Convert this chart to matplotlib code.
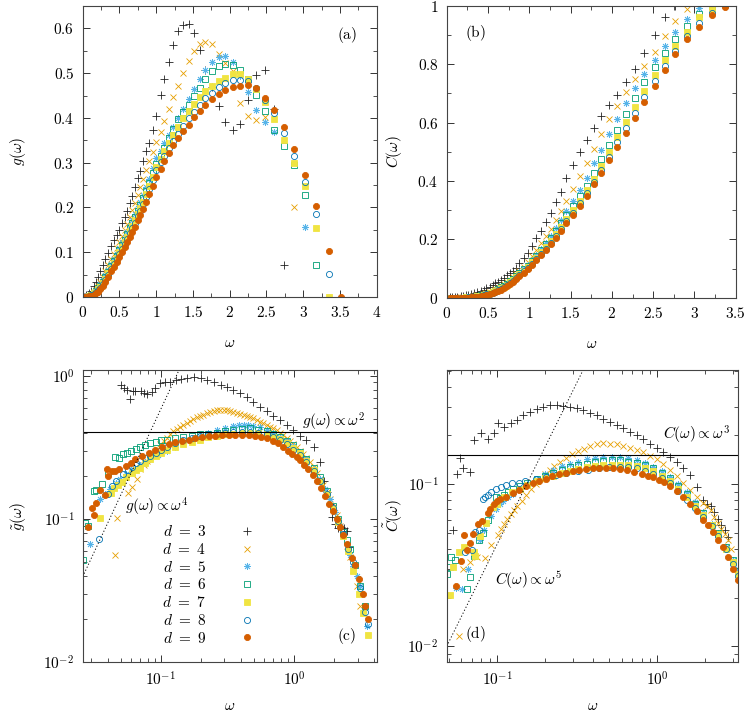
import numpy as np
import matplotlib
matplotlib.use('Agg')
import matplotlib.pyplot as plt
from matplotlib.ticker import MultipleLocator, LogLocator, NullFormatter, FuncFormatter

plt.rcParams['mathtext.fontset'] = 'cm'
plt.rcParams['font.family'] = ['DejaVu Serif']
plt.rcParams['font.size'] = 11

nan = np.nan
dims = [3, 4, 5, 6, 7, 8, 9]

# ---- panel (a): g(omega), shared omega grid ----
w_a = [0.02,0.05,0.08,0.11,0.15,0.18,0.21,0.24,0.27,0.31,
       0.35,0.39,0.43,0.46,0.50,0.54,0.57,0.60,0.64,0.67,
       0.71,0.75,0.78,0.82,0.86,0.90,0.95,1.00,1.06,1.11,
       1.17,1.23,1.30,1.37,1.44,1.51,1.59,1.67,1.76,1.85,
       1.94,2.04,2.14,2.25,2.36,2.48,2.60,2.74,2.88,3.03,
       3.18,3.35,3.52]
g_d3 = [0.001,0.004,0.008,0.014,0.024,0.034,0.045,0.057,0.071,0.085,
        0.098,0.114,0.128,0.139,0.150,0.166,0.178,0.192,0.211,0.225,
        0.245,0.266,0.282,0.304,0.325,0.343,0.374,0.405,0.452,0.488,
        0.525,0.563,0.594,0.608,0.609,0.589,0.552,0.508,0.468,0.426,
        0.390,0.374,0.387,0.439,0.495,0.508,0.420,0.072,nan,nan,
        nan,nan,nan]
g_d4 = [0.000,0.001,0.002,0.005,0.010,0.016,0.024,0.034,0.045,0.058,
        0.071,0.084,0.097,0.109,0.123,0.136,0.149,0.163,0.178,0.195,
        0.211,0.228,0.246,0.264,0.283,0.303,0.323,0.346,0.369,0.392,
        0.420,0.447,0.472,0.500,0.527,0.549,0.564,0.569,0.564,0.543,
        0.522,0.505,0.434,0.404,0.396,0.402,nan,nan,0.202,nan,
        nan,nan,nan]
g_d5 = [0.000,0.001,0.003,0.006,0.010,0.015,0.021,0.028,0.037,0.048,
        0.060,0.073,0.085,0.097,0.110,0.122,0.134,0.146,0.159,0.172,
        0.185,0.199,0.213,0.228,0.245,0.264,0.287,0.310,0.327,0.344,
        0.362,0.380,0.400,0.421,0.443,0.465,0.487,0.506,0.524,0.536,
        0.538,0.524,0.493,0.457,0.417,0.390,0.369,nan,nan,0.157,
        nan,nan,nan]
g_d6 = [0.000,0.001,0.003,0.005,0.009,0.013,0.019,0.025,0.034,0.044,
        0.056,0.069,0.081,0.092,0.105,0.116,0.128,0.140,0.153,0.165,
        0.178,0.192,0.206,0.220,0.237,0.255,0.276,0.298,0.316,0.333,
        0.355,0.376,0.397,0.413,0.429,0.450,0.467,0.487,0.504,0.515,
        0.520,0.518,0.506,0.488,0.452,0.415,0.374,0.337,0.294,0.228,
        0.072,nan,nan]
g_d7 = [0.000,0.001,0.002,0.005,0.008,0.012,0.017,0.023,0.031,0.041,
        0.053,0.065,0.077,0.088,0.100,0.111,0.122,0.134,0.147,0.159,
        0.172,0.186,0.199,0.213,0.230,0.248,0.269,0.290,0.309,0.326,
        0.344,0.362,0.380,0.399,0.416,0.431,0.446,0.460,0.471,0.482,
        0.490,0.499,0.497,0.486,0.465,0.436,0.398,0.351,0.300,0.247,
        0.154,0.000,nan]
g_d8 = [0.000,0.001,0.002,0.004,0.007,0.010,0.015,0.021,0.028,0.038,
        0.050,0.062,0.073,0.084,0.096,0.107,0.118,0.130,0.142,0.154,
        0.166,0.180,0.193,0.207,0.224,0.241,0.262,0.283,0.301,0.316,
        0.332,0.349,0.364,0.381,0.399,0.414,0.429,0.444,0.456,0.469,
        0.478,0.484,0.485,0.483,0.467,0.441,0.410,0.366,0.316,0.257,
        0.185,0.051,nan]
g_d9 = [0.000,0.000,0.0015,0.003,0.005,0.008,0.012,0.017,0.024,0.034,
        0.045,0.057,0.068,0.078,0.090,0.101,0.112,0.123,0.135,0.146,
        0.157,0.171,0.183,0.196,0.213,0.230,0.248,0.268,0.286,0.304,
        0.322,0.340,0.356,0.370,0.385,0.403,0.416,0.429,0.443,0.453,
        0.463,0.468,0.471,0.473,0.466,0.444,0.418,0.380,0.331,0.272,
        0.203,0.102,0.000]

# ---- panel (b): C(omega) ----
w_b = [0.04,0.07,0.10,0.13,0.17,0.20,0.23,0.26,0.29,0.33,
       0.37,0.41,0.45,0.48,0.52,0.56,0.59,0.62,0.66,0.69,
       0.73,0.77,0.80,0.84,0.88,0.93,0.98,1.03,1.08,1.14,
       1.20,1.26,1.32,1.38,1.45,1.53,1.61,1.70,1.78,1.87,
       1.96,2.06,2.17,2.28,2.39,2.52,2.64,2.77,2.91,3.06,
       3.21,3.37]
c_d3 = [0.001,0.002,0.003,0.004,0.005,0.006,0.008,0.010,0.012,0.015,
        0.019,0.023,0.028,0.032,0.038,0.044,0.050,0.055,0.062,0.069,
        0.077,0.085,0.092,0.103,0.118,0.136,0.153,0.178,0.204,0.229,
        0.258,0.291,0.327,0.363,0.409,0.455,0.498,0.541,0.583,0.623,
        0.661,0.695,0.738,0.783,0.838,0.900,0.961,1.000,nan,nan,
        nan,nan]
c_d4 = [0,0.0001,0.0002,0.0004,0.0007,0.0012,0.002,0.003,0.004,0.006,
        0.008,0.010,0.013,0.016,0.020,0.024,0.029,0.034,0.040,0.047,
        0.054,0.062,0.070,0.080,0.091,0.105,0.123,0.143,0.163,0.186,
        0.211,0.234,0.266,0.297,0.331,0.373,0.418,0.463,0.510,0.560,
        0.612,0.657,0.704,0.750,0.795,0.843,0.897,0.949,0.989,nan,
        nan,nan]
c_d5 = [0,0,0.0001,0.0002,0.0004,0.0007,0.0012,0.002,0.003,0.0045,
        0.006,0.009,0.011,0.014,0.017,0.021,0.026,0.031,0.037,0.043,
        0.050,0.058,0.066,0.076,0.087,0.099,0.113,0.130,0.148,0.167,
        0.189,0.212,0.238,0.266,0.298,0.333,0.370,0.410,0.461,0.506,
        0.560,0.613,0.666,0.718,0.767,0.815,0.864,0.912,0.955,0.992,
        nan,nan]
c_d6 = [0,0,0,0.0001,0.0003,0.0005,0.0009,0.0015,0.0025,0.004,
        0.006,0.008,0.010,0.013,0.016,0.020,0.024,0.029,0.035,0.041,
        0.048,0.056,0.064,0.074,0.085,0.097,0.110,0.126,0.143,0.162,
        0.183,0.205,0.229,0.255,0.283,0.314,0.349,0.384,0.428,0.474,
        0.523,0.575,0.629,0.684,0.738,0.790,0.840,0.887,0.933,0.973,
        1.000,nan]
c_d7 = [0,0,0,0.0001,0.0002,0.0004,0.0007,0.0012,0.002,0.003,
        0.005,0.007,0.009,0.012,0.015,0.018,0.022,0.027,0.032,0.038,
        0.045,0.053,0.061,0.070,0.081,0.093,0.105,0.121,0.137,0.155,
        0.174,0.195,0.218,0.243,0.270,0.300,0.333,0.368,0.406,0.453,
        0.501,0.552,0.601,0.655,0.710,0.763,0.815,0.864,0.910,0.961,
        0.990,nan]
c_d8 = [0,0,0,0,0.0001,0.0002,0.0005,0.0009,0.0015,0.0025,
        0.004,0.006,0.008,0.011,0.014,0.017,0.021,0.025,0.031,0.036,
        0.043,0.051,0.058,0.067,0.078,0.090,0.102,0.117,0.133,0.150,
        0.168,0.189,0.211,0.236,0.262,0.292,0.324,0.358,0.395,0.438,
        0.483,0.533,0.583,0.634,0.689,0.744,0.795,0.847,0.898,0.943,
        0.977,1.000]
c_d9 = [0,0,0,0,0,0.0001,0.0003,0.0006,0.001,0.002,
        0.003,0.005,0.007,0.009,0.012,0.015,0.018,0.022,0.028,0.033,
        0.040,0.047,0.054,0.063,0.073,0.085,0.099,0.113,0.128,0.145,
        0.163,0.183,0.205,0.229,0.255,0.283,0.315,0.350,0.389,0.426,
        0.472,0.518,0.566,0.617,0.672,0.727,0.781,0.835,0.886,0.929,
        0.969,0.995]

# ---- panel (c): reduced g, (omega, value) pairs ----
gt_d3 = [(0.0506,0.87),(0.0530,0.82),(0.0560,0.80),(0.0592,0.69),(0.0615,0.78),(0.0644,0.79),
         (0.0707,0.78),(0.0745,0.76),(0.079,0.75),(0.0857,0.77),(0.0912,0.82),(0.099,0.89),
         (0.108,0.90),(0.118,0.91),(0.13,0.935),(0.141,0.95),(0.158,0.97),(0.177,0.985),
         (0.199,0.975),(0.224,0.94),(0.251,0.91),(0.282,0.87),(0.313,0.84),(0.351,0.80),
         (0.394,0.76),(0.442,0.71),(0.496,0.66),(0.556,0.61),(0.624,0.566),(0.70,0.522),
         (0.785,0.495),(0.881,0.457),(0.989,0.42),(1.11,0.383),(1.24,0.355),(1.40,0.32),
         (1.57,0.25),(1.67,0.185),(1.76,0.155),(1.85,0.127),(1.94,0.104),(2.04,0.092),
         (2.14,0.087),(2.25,0.088),(2.36,0.087),(2.48,0.082),(2.60,0.064)]
gt_d4 = [(0.0455,0.0557),(0.0474,0.101),(0.0573,0.153),(0.0608,0.166),(0.0664,0.19),(0.0701,0.222),
         (0.0745,0.238),(0.0787,0.254),(0.083,0.27),(0.0883,0.29),(0.0935,0.31),(0.099,0.332),
         (0.105,0.35),(0.111,0.369),(0.118,0.39),(0.124,0.411),(0.132,0.425),(0.140,0.44),
         (0.148,0.457),(0.157,0.47),(0.166,0.485),(0.176,0.50),(0.187,0.515),(0.198,0.525),
         (0.209,0.536),(0.222,0.55),(0.235,0.56),(0.249,0.565),(0.264,0.575),(0.279,0.58),
         (0.296,0.578),(0.313,0.575),(0.332,0.568),(0.351,0.56),(0.372,0.552),(0.394,0.545),
         (0.418,0.535),(0.442,0.527),(0.468,0.515),(0.496,0.505),(0.525,0.495),(0.556,0.48),
         (0.589,0.468),(0.624,0.457),(0.661,0.443),(0.70,0.43),(0.741,0.417),(0.785,0.40),
         (0.832,0.385),(0.881,0.369),(0.933,0.35),(0.989,0.335),(1.05,0.32),(1.11,0.30),
         (1.17,0.283),(1.24,0.268),(1.32,0.25),(1.40,0.23),(1.48,0.211),(1.57,0.19),
         (1.66,0.172),(1.76,0.155),(1.86,0.138),(1.97,0.122),(2.09,0.106),(2.21,0.09),
         (2.34,0.077),(2.48,0.065),(2.63,0.054),(2.79,0.044),(2.95,0.034),(3.12,0.0245)]
gt_d5 = [(0.0297,0.067),(0.035,0.138),(0.038,0.15),(0.0419,0.162),(0.046,0.178),(0.0499,0.19),
         (0.055,0.205),(0.0624,0.222),(0.07,0.24),(0.0765,0.25),(0.0832,0.261),(0.095,0.28),
         (0.111,0.298),(0.128,0.32),(0.148,0.341),(0.171,0.362),(0.197,0.383),(0.228,0.40),
         (0.263,0.417),(0.305,0.432),(0.351,0.445),(0.384,0.451),(0.418,0.454),(0.455,0.453),
         (0.496,0.45),(0.556,0.438),(0.624,0.422),(0.70,0.40),(0.785,0.375),(0.881,0.35),
         (0.989,0.323),(1.11,0.292),(1.24,0.261),(1.40,0.225),(1.57,0.19),(1.71,0.162),
         (1.86,0.138),(2.02,0.112),(2.21,0.09),(2.34,0.078),(2.48,0.067),(2.63,0.056),
         (2.79,0.047),(2.95,0.04),(3.12,0.034),(3.35,0.023),(3.51,0.018)]
gt_d6 = [(0.0263,0.052),(0.027,0.094),(0.0285,0.09),(0.0318,0.157),(0.0327,0.159),(0.036,0.175),
         (0.04,0.211),(0.0455,0.272),(0.049,0.265),(0.0525,0.286),(0.056,0.29),(0.06,0.30),
         (0.065,0.31),(0.07,0.32),(0.0765,0.33),(0.0832,0.341),(0.092,0.348),(0.101,0.354),
         (0.111,0.359),(0.128,0.367),(0.148,0.375),(0.171,0.383),(0.197,0.39),(0.228,0.395),
         (0.263,0.40),(0.305,0.41),(0.351,0.42),(0.405,0.428),(0.468,0.43),(0.54,0.422),
         (0.624,0.41),(0.70,0.395),(0.785,0.375),(0.881,0.352),(0.989,0.327),(1.11,0.295),
         (1.24,0.262),(1.40,0.228),(1.57,0.195),(1.76,0.158),(1.97,0.124),(2.15,0.10),
         (2.34,0.081),(2.48,0.071),(2.63,0.062),(2.86,0.048),(3.12,0.034),(3.41,0.0245)]
gt_d7 = [(0.035,0.101),(0.0424,0.153),(0.045,0.165),(0.048,0.172),(0.0515,0.18),(0.055,0.195),
         (0.0606,0.211),(0.065,0.22),(0.0701,0.229),(0.0765,0.245),(0.0832,0.261),(0.092,0.275),
         (0.101,0.29),(0.111,0.303),(0.128,0.318),(0.148,0.332),(0.171,0.346),(0.197,0.359),
         (0.228,0.372),(0.263,0.383),(0.305,0.39),(0.351,0.395),(0.405,0.398),(0.468,0.40),
         (0.54,0.397),(0.624,0.39),(0.70,0.377),(0.785,0.36),(0.881,0.34),(0.989,0.315),
         (1.11,0.287),(1.24,0.255),(1.40,0.22),(1.57,0.185),(1.76,0.15),(1.97,0.118),
         (2.15,0.095),(2.34,0.076),(2.55,0.06),(2.79,0.043),(3.05,0.03),(3.3,0.022),(3.57,0.0155)]
gt_d8 = [(0.0347,0.073),(0.0405,0.15),(0.043,0.17),(0.0465,0.185),(0.0525,0.205),(0.057,0.22),
         (0.0606,0.23),(0.065,0.245),(0.07,0.255),(0.0765,0.265),(0.0832,0.275),(0.092,0.29),
         (0.101,0.305),(0.111,0.32),(0.128,0.338),(0.148,0.355),(0.171,0.37),(0.197,0.383),
         (0.228,0.39),(0.263,0.395),(0.305,0.40),(0.351,0.404),(0.405,0.405),(0.468,0.404),
         (0.54,0.40),(0.624,0.39),(0.70,0.375),(0.785,0.358),(0.881,0.333),(0.989,0.303),
         (1.11,0.278),(1.24,0.25),(1.40,0.218),(1.57,0.185),(1.76,0.15),(1.97,0.12),
         (2.15,0.097),(2.34,0.078),(2.55,0.062),(2.79,0.05),(3.12,0.033),(3.41,0.0225),(3.57,0.0185)]
gt_d9 = [(0.0285,0.0875),(0.0305,0.119),(0.0318,0.107),(0.033,0.129),(0.0352,0.16),(0.0379,0.147),
         (0.0396,0.222),(0.0403,0.20),(0.043,0.215),(0.0456,0.216),(0.049,0.225),(0.0545,0.235),
         (0.0595,0.248),(0.0645,0.261),(0.0725,0.275),(0.0812,0.29),(0.091,0.305),(0.102,0.319),
         (0.115,0.332),(0.129,0.344),(0.145,0.352),(0.162,0.359),(0.182,0.367),(0.204,0.375),
         (0.229,0.379),(0.257,0.383),(0.289,0.386),(0.324,0.387),(0.363,0.388),(0.407,0.387),
         (0.457,0.384),(0.51,0.38),(0.567,0.374),(0.624,0.367),(0.70,0.352),(0.76,0.34),
         (0.832,0.32),(0.90,0.30),(0.97,0.283),(1.05,0.27),(1.11,0.258),(1.19,0.24),
         (1.28,0.222),(1.38,0.203),(1.48,0.185),(1.59,0.165),(1.71,0.145),(1.84,0.128),
         (1.97,0.114),(2.09,0.10),(2.21,0.088),(2.34,0.077),(2.48,0.067),(2.7,0.053),
         (2.86,0.048),(3.09,0.038),(3.31,0.03),(3.41,0.0245),(3.57,0.02)]

# ---- panel (d): reduced C, (omega, value) pairs ----
ct_d3 = [(0.0534,0.052),(0.0560,0.116),(0.0587,0.146),(0.0616,0.125),(0.0678,0.119),(0.0721,0.187),
         (0.0795,0.208),(0.0875,0.191),(0.0962,0.206),(0.101,0.237),(0.111,0.226),(0.122,0.237),
         (0.133,0.25),(0.145,0.266),(0.16,0.278),(0.177,0.29),(0.195,0.30),(0.214,0.307),
         (0.236,0.308),(0.26,0.305),(0.286,0.30),(0.315,0.293),(0.346,0.285),(0.381,0.275),
         (0.42,0.267),(0.462,0.254),(0.508,0.243),(0.559,0.231),(0.615,0.221),(0.676,0.21),
         (0.746,0.20),(0.82,0.19),(0.903,0.178),(0.994,0.168),(1.09,0.158),(1.21,0.148),
         (1.33,0.137),(1.46,0.125),(1.61,0.114),(1.77,0.096),(1.95,0.08),(2.06,0.076),
         (2.16,0.073),(2.28,0.067),(2.39,0.061),(2.52,0.056),(2.65,0.052),(2.78,0.047)]
ct_d4 = [(0.0582,0.0115),(0.0616,0.030),(0.068,0.033),(0.0746,0.0356),(0.0845,0.0353),(0.092,0.042),
         (0.101,0.0484),(0.106,0.053),(0.111,0.057),(0.116,0.061),(0.122,0.0653),(0.128,0.069),
         (0.134,0.073),(0.143,0.079),(0.152,0.0855),(0.163,0.093),(0.174,0.10),(0.187,0.108),
         (0.20,0.116),(0.213,0.123),(0.227,0.13),(0.248,0.138),(0.27,0.146),(0.294,0.153),
         (0.32,0.16),(0.35,0.166),(0.38,0.171),(0.42,0.177),(0.462,0.179),(0.508,0.178),
         (0.559,0.176),(0.615,0.172),(0.676,0.168),(0.746,0.163),(0.82,0.157),(0.903,0.15),
         (0.994,0.142),(1.09,0.133),(1.21,0.122),(1.33,0.112),(1.46,0.102),(1.61,0.092),
         (1.77,0.083),(1.95,0.077),(2.06,0.073),(2.16,0.069),(2.28,0.063),(2.39,0.058),
         (2.52,0.053),(2.65,0.049),(2.77,0.045),(2.91,0.040)]
ct_d5 = [(0.0556,0.0229),(0.0604,0.0227),(0.066,0.03),(0.072,0.036),(0.078,0.045),(0.0825,0.052),
         (0.0861,0.058),(0.092,0.064),(0.098,0.07),(0.104,0.075),(0.1096,0.079),(0.117,0.083),
         (0.125,0.087),(0.139,0.094),(0.155,0.10),(0.177,0.108),(0.2,0.116),(0.225,0.123),
         (0.254,0.129),(0.286,0.134),(0.322,0.138),(0.363,0.142),(0.41,0.145),(0.462,0.147),
         (0.52,0.148),(0.587,0.147),(0.66,0.145),(0.746,0.141),(0.84,0.135),(0.949,0.128),
         (1.07,0.12),(1.21,0.11),(1.36,0.10),(1.53,0.089),(1.73,0.078),(1.95,0.067),
         (2.2,0.057),(2.42,0.05),(2.7,0.041),(3.0,0.034),(3.19,0.030)]
ct_d6 = [(0.0485,0.0281),(0.0508,0.031),(0.0516,0.0356),(0.0547,0.034),(0.0648,0.0227),(0.0678,0.0268),
         (0.072,0.036),(0.077,0.045),(0.082,0.05),(0.088,0.06),(0.0986,0.0835),(0.104,0.082),
         (0.11,0.086),(0.117,0.09),(0.125,0.093),(0.139,0.097),(0.155,0.102),(0.177,0.107),
         (0.2,0.113),(0.225,0.118),(0.254,0.123),(0.286,0.127),(0.322,0.131),(0.363,0.134),
         (0.41,0.137),(0.462,0.139),(0.52,0.14),(0.587,0.14),(0.66,0.138),(0.746,0.136),
         (0.84,0.131),(0.949,0.126),(1.07,0.118),(1.21,0.109),(1.36,0.098),(1.53,0.087),
         (1.73,0.076),(1.95,0.066),(2.2,0.056),(2.42,0.05),(2.7,0.041),(3.0,0.034),(3.19,0.029)]
ct_d7 = [(0.0508,0.0206),(0.0533,0.031),(0.0582,0.0382),(0.0625,0.041),(0.0718,0.0382),(0.0732,0.036),
         (0.078,0.048),(0.085,0.058),(0.0939,0.072),(0.10,0.076),(0.11,0.083),(0.124,0.089),
         (0.139,0.094),(0.155,0.099),(0.177,0.104),(0.2,0.109),(0.225,0.113),(0.254,0.117),
         (0.286,0.12),(0.322,0.124),(0.363,0.127),(0.41,0.129),(0.462,0.131),(0.52,0.132),
         (0.587,0.132),(0.66,0.131),(0.746,0.129),(0.84,0.125),(0.949,0.12),(1.07,0.113),
         (1.21,0.104),(1.36,0.094),(1.53,0.083),(1.73,0.073),(1.95,0.065),(2.2,0.056),
         (2.42,0.049),(2.7,0.04),(3.0,0.033),(3.19,0.028)]
ct_d8 = [(0.0631,0.0382),(0.0698,0.039),(0.0732,0.0507),(0.077,0.052),(0.0813,0.0816),(0.0845,0.083),
         (0.0875,0.0855),(0.0918,0.0897),(0.0985,0.093),(0.106,0.0962),(0.114,0.0985),(0.124,0.101),
         (0.138,0.102),(0.15,0.104),(0.175,0.107),(0.202,0.11),(0.235,0.114),(0.27,0.117),
         (0.32,0.12),(0.37,0.123),(0.436,0.125),(0.50,0.127),(0.587,0.128),(0.66,0.127),
         (0.746,0.125),(0.84,0.121),(0.949,0.116),(1.07,0.109),(1.21,0.101),(1.36,0.091),
         (1.53,0.08),(1.73,0.071),(1.95,0.063),(2.2,0.055),(2.42,0.048),(2.7,0.04),
         (3.0,0.032),(3.19,0.027)]
ct_d9 = [(0.0556,0.0234),(0.0595,0.0337),(0.0625,0.0484),(0.0645,0.039),(0.0678,0.0435),(0.0711,0.049),
         (0.0757,0.0566),(0.0805,0.059),(0.0875,0.0665),(0.0905,0.07),(0.0962,0.076),(0.10,0.079),
         (0.105,0.081),(0.114,0.0835),(0.125,0.088),(0.138,0.0927),(0.152,0.097),(0.167,0.101),
         (0.184,0.105),(0.202,0.108),(0.222,0.112),(0.245,0.115),(0.27,0.118),(0.297,0.121),
         (0.327,0.123),(0.36,0.124),(0.40,0.125),(0.436,0.125),(0.48,0.125),(0.53,0.125),
         (0.587,0.124),(0.65,0.122),(0.72,0.119),(0.8,0.116),(0.875,0.113),(0.949,0.11),
         (1.03,0.106),(1.1,0.103),(1.21,0.097),(1.33,0.0905),(1.46,0.0835),(1.61,0.075),
         (1.77,0.068),(1.95,0.06),(2.09,0.056),(2.25,0.051),(2.42,0.045),(2.6,0.041),
         (2.79,0.0356),(3.0,0.030),(3.19,0.0255)]

# guide lines
g_plateau, c_plateau = 0.404, 0.151
g_slope_amp, c_slope_amp = 58.4, 4.25

g_a = [g_d3, g_d4, g_d5, g_d6, g_d7, g_d8, g_d9]
c_b = [c_d3, c_d4, c_d5, c_d6, c_d7, c_d8, c_d9]
gt_c = [gt_d3, gt_d4, gt_d5, gt_d6, gt_d7, gt_d8, gt_d9]
ct_d = [ct_d3, ct_d4, ct_d5, ct_d6, ct_d7, ct_d8, ct_d9]

styles = [
    dict(marker='+', color='#222222', mfc='none', ms=5.5),
    dict(marker='x', color='#E69F00', mfc='none', ms=4.3),
    dict(marker=(8, 2, 0), color='#56B4E9', mfc='none', ms=5.0),
    dict(marker='s', color='#009E73', mfc='none', ms=4.0),
    dict(marker='s', color='#F0E442', mfc='#F0E442', ms=4.0),
    dict(marker='o', color='#0072B2', mfc='none', ms=4.4),
    dict(marker='o', color='#D55E00', mfc='#D55E00', ms=4.4),
]


def draw(ax, xs, ys, st, label=None):
    ax.plot(xs, ys, linestyle='none', marker=st['marker'], color=st['color'],
            mfc=st['mfc'], mec=st['color'], ms=st['ms'], mew=0.6, label=label)


def mfmt(v, pos):
    return '$%g$' % v


def style_axes(ax):
    ax.tick_params(which='both', direction='in', top=True, right=True, colors='#333333',
                   labelcolor='black', labelsize=11)
    ax.tick_params(which='major', length=5, width=0.7, pad=6)
    ax.tick_params(which='minor', length=2.8, width=0.6)
    for s in ax.spines.values():
        s.set_linewidth(0.8)
        s.set_color('#444444')


fig = plt.figure(figsize=(7.47, 7.12), dpi=100)
axa = fig.add_axes([0.1107, 0.5829, 0.3936, 0.4087])
axb = fig.add_axes([0.5980, 0.5819, 0.3870, 0.4097])
axc = fig.add_axes([0.1107, 0.0702, 0.3936, 0.4101])
axd = fig.add_axes([0.5980, 0.0702, 0.3904, 0.4101])

# (a)
for ys, st in zip(g_a, styles):
    draw(axa, w_a, ys, st)
axa.set_xlim(0, 4)
axa.set_ylim(0, 0.65)
axa.xaxis.set_major_locator(MultipleLocator(0.5))
axa.xaxis.set_minor_locator(MultipleLocator(0.25))
axa.yaxis.set_major_locator(MultipleLocator(0.1))
axa.yaxis.set_minor_locator(MultipleLocator(0.05))
axa.xaxis.set_major_formatter(FuncFormatter(mfmt))
axa.yaxis.set_major_formatter(FuncFormatter(mfmt))
axa.text(0.898, 0.90, r'$\mathrm{(a)}$', transform=axa.transAxes, ha='center', va='center', fontsize=11)
axa.set_ylabel(r'$g(\omega)$', fontsize=11)
axa.set_xlabel(r'$\omega$', fontsize=11)

# (b)
for ys, st in zip(c_b, styles):
    draw(axb, w_b, ys, st)
axb.set_xlim(0, 3.5)
axb.set_ylim(0, 1)
axb.xaxis.set_major_locator(MultipleLocator(0.5))
axb.xaxis.set_minor_locator(MultipleLocator(0.25))
axb.yaxis.set_major_locator(MultipleLocator(0.2))
axb.yaxis.set_minor_locator(MultipleLocator(0.1))
axb.xaxis.set_major_formatter(FuncFormatter(mfmt))
axb.yaxis.set_major_formatter(FuncFormatter(mfmt))
axb.text(0.10, 0.906, r'$\mathrm{(b)}$', transform=axb.transAxes, ha='center', va='center', fontsize=11)
axb.set_ylabel(r'$C(\omega)$', fontsize=11)
axb.set_xlabel(r'$\omega$', fontsize=11)

# (c)
for d, pts, st in zip(dims, gt_c, styles):
    arr = np.array(pts)
    draw(axc, arr[:, 0], arr[:, 1], st, label=r'$d\ =\ %d$' % d)
axc.set_xscale('log')
axc.set_yscale('log')
axc.set_xlim(0.026, 4.17)
axc.set_ylim(0.01, 1.1)
xl = np.array(axc.get_xlim())
axc.axhline(g_plateau, color='black', lw=0.8)
axc.plot(xl, g_slope_amp * xl ** 2, ls=(0, (1.2, 2.2)), color='black', lw=0.7)
axc.text(0.853, 0.822, r'$g(\omega) \propto \omega^2$', transform=axc.transAxes, ha='center', va='center', fontsize=11)
axc.text(0.251, 0.531, r'$g(\omega) \propto \omega^4$', transform=axc.transAxes, ha='center', va='center', fontsize=11)
axc.text(0.898, 0.089, r'$\mathrm{(c)}$', transform=axc.transAxes, ha='center', va='center', fontsize=11)
axc.legend(loc='upper right', bbox_to_anchor=(0.585, 0.472), frameon=False, markerfirst=False,
           handlelength=1.0, handletextpad=2.2, labelspacing=0.18, borderpad=0, borderaxespad=0,
           fontsize=11, numpoints=1)
axc.set_ylabel(r'$\tilde{g}(\omega)$', fontsize=11)
axc.set_xlabel(r'$\omega$', fontsize=11)

# (d)
for pts, st in zip(ct_d, styles):
    arr = np.array(pts)
    draw(axd, arr[:, 0], arr[:, 1], st)
axd.set_xscale('log')
axd.set_yscale('log')
axd.set_xlim(0.0485, 3.22)
axd.set_ylim(0.008, 0.506)
xl = np.array(axd.get_xlim())
axd.axhline(c_plateau, color='black', lw=0.8)
axd.plot(xl, c_slope_amp * xl ** 2, ls=(0, (1.2, 2.2)), color='black', lw=0.7)
axd.text(0.855, 0.777, r'$C(\omega) \propto \omega^3$', transform=axd.transAxes, ha='center', va='center', fontsize=11)
axd.text(0.28, 0.281, r'$C(\omega) \propto \omega^5$', transform=axd.transAxes, ha='center', va='center', fontsize=11)
axd.text(0.097, 0.096, r'$\mathrm{(d)}$', transform=axd.transAxes, ha='center', va='center', fontsize=11)
axd.set_ylabel(r'$\tilde{C}(\omega)$', fontsize=11)
axd.set_xlabel(r'$\omega$', fontsize=11)

for ax in (axc, axd):
    ax.xaxis.set_major_locator(LogLocator(base=10, numticks=10))
    ax.yaxis.set_major_locator(LogLocator(base=10, numticks=10))
    ax.xaxis.set_minor_locator(LogLocator(base=10, subs=np.arange(2, 10), numticks=20))
    ax.yaxis.set_minor_locator(LogLocator(base=10, subs=np.arange(2, 10), numticks=20))
    ax.xaxis.set_minor_formatter(NullFormatter())
    ax.yaxis.set_minor_formatter(NullFormatter())
    ax.xaxis.set_major_formatter(FuncFormatter(lambda v, p: '$10^{%d}$' % round(np.log10(v))))
    ax.yaxis.set_major_formatter(FuncFormatter(lambda v, p: '$10^{%d}$' % round(np.log10(v))))

for ax in (axa, axb, axc, axd):
    style_axes(ax)

# y labels centred at fixed spots left of the tick labels
for ax, xpos in ((axa, -0.22), (axc, -0.22), (axb, -0.184), (axd, -0.184)):
    ax.yaxis.set_label_coords(xpos, 0.5)
    ax.yaxis.label.set_verticalalignment('center')
for ax in (axa, axb):
    ax.xaxis.set_label_coords(0.5, -0.135)
for ax in (axc, axd):
    ax.xaxis.set_label_coords(0.5, -0.125)

fig.savefig('out.png', dpi=100)
